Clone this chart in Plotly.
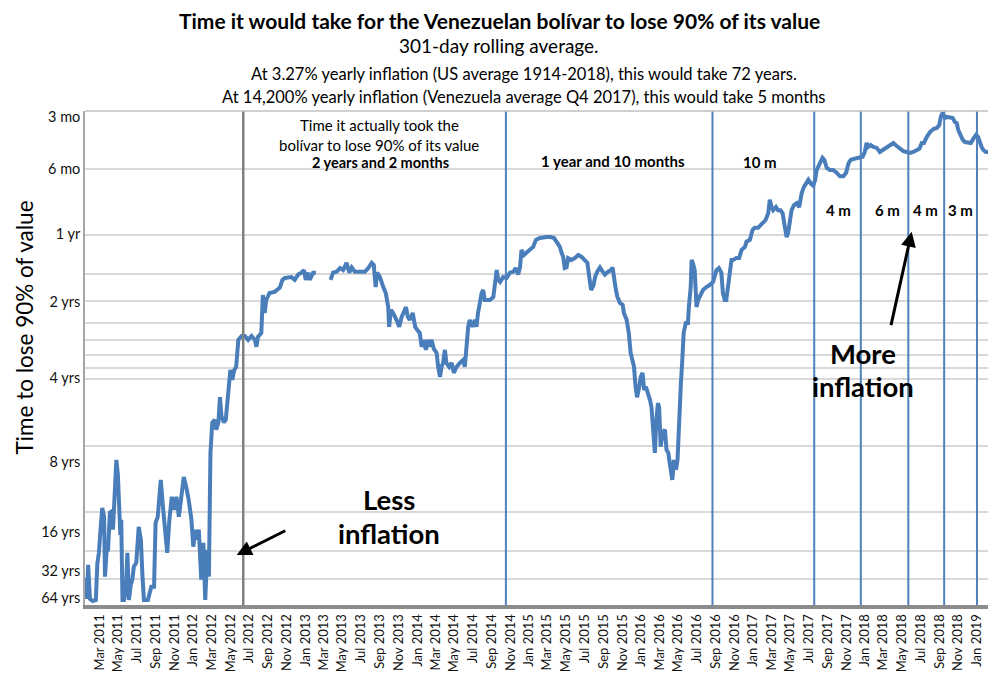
import numpy as np
import plotly.graph_objects as go

# 301-day rolling value on the chart's log scale (axis quantity, larger = slower loss)
dates = [
    "2011-01-14", "2011-01-19", "2011-01-23", "2011-01-29", "2011-02-07", "2011-02-17",
    "2011-02-22", "2011-02-27", "2011-03-06", "2011-03-10", "2011-03-16", "2011-03-19",
    "2011-03-24", "2011-03-29", "2011-04-04", "2011-04-09", "2011-04-14", "2011-04-20",
    "2011-04-25", "2011-04-30", "2011-05-03", "2011-05-08", "2011-05-11", "2011-05-15",
    "2011-05-20", "2011-05-26", "2011-05-31", "2011-06-05", "2011-06-11", "2011-06-16",
    "2011-06-21", "2011-06-29", "2011-07-07", "2011-07-14", "2011-07-19", "2011-07-24",
    "2011-08-06", "2011-08-17", "2011-08-26", "2011-08-31", "2011-09-07", "2011-09-17",
    "2011-09-24", "2011-10-02", "2011-10-08", "2011-10-15", "2011-10-23", "2011-10-30",
    "2011-11-07", "2011-11-15", "2011-11-23", "2011-12-01", "2011-12-09", "2011-12-17",
    "2011-12-26", "2012-01-01", "2012-01-08", "2012-01-13", "2012-01-19", "2012-01-27",
    "2012-02-03", "2012-02-09", "2012-02-16", "2012-02-21", "2012-02-26", "2012-03-03",
    "2012-03-11", "2012-03-16", "2012-03-23", "2012-03-28", "2012-04-02", "2012-04-10",
    "2012-04-16", "2012-04-21", "2012-04-26", "2012-05-01", "2012-05-07", "2012-05-14",
    "2012-05-20", "2012-05-27", "2012-06-01", "2012-06-07", "2012-06-17", "2012-06-28",
    "2012-07-09", "2012-07-20", "2012-07-25", "2012-07-30", "2012-08-10", "2012-08-15",
    "2012-08-21", "2012-08-26", "2012-09-06", "2012-09-22", "2012-10-09", "2012-10-18",
    "2012-10-26", "2012-11-05", "2012-11-16", "2012-11-27", "2012-12-08", "2012-12-19",
    "2012-12-27", "2013-01-02", "2013-01-10", "2013-01-15", "2013-01-26", "2013-02-04",
    "2013-03-01", "2013-03-24", "2013-04-01", "2013-04-13", "2013-04-24", "2013-05-04",
    "2013-05-15", "2013-05-24", "2013-06-01", "2013-06-11", "2013-06-22", "2013-07-03",
    "2013-07-14", "2013-07-25", "2013-08-05", "2013-08-12", "2013-08-18", "2013-08-23",
    "2013-09-01", "2013-09-12", "2013-09-20", "2013-09-28", "2013-10-01", "2013-10-07",
    "2013-10-14", "2013-10-25", "2013-11-03", "2013-11-11", "2013-11-16", "2013-11-25",
    "2013-12-01", "2013-12-08", "2013-12-17", "2013-12-25", "2014-01-01", "2014-01-09",
    "2014-01-15", "2014-01-22", "2014-01-29", "2014-02-05", "2014-02-11", "2014-02-16",
    "2014-02-24", "2014-03-05", "2014-03-10", "2014-03-16", "2014-03-21", "2014-03-26",
    "2014-04-01", "2014-04-06", "2014-04-15", "2014-04-23", "2014-04-30", "2014-05-09",
    "2014-05-20", "2014-05-31", "2014-06-05", "2014-06-11", "2014-06-16", "2014-06-21",
    "2014-06-30", "2014-07-08", "2014-07-13", "2014-07-18", "2014-07-24", "2014-07-30",
    "2014-08-04", "2014-08-09", "2014-08-15", "2014-08-26", "2014-09-06", "2014-09-11",
    "2014-09-17", "2014-09-22", "2014-09-28", "2014-10-08", "2014-10-19", "2014-10-30",
    "2014-11-10", "2014-11-19", "2014-11-26", "2014-12-02", "2014-12-07", "2014-12-15",
    "2014-12-24", "2015-01-03", "2015-01-14", "2015-01-23", "2015-02-05", "2015-02-16",
    "2015-02-27", "2015-03-12", "2015-03-23", "2015-03-31", "2015-04-11", "2015-04-17",
    "2015-04-22", "2015-04-27", "2015-05-03", "2015-05-08", "2015-05-19", "2015-05-30",
    "2015-06-10", "2015-06-21", "2015-07-02", "2015-07-10", "2015-07-16", "2015-07-22",
    "2015-07-30", "2015-08-04", "2015-08-11", "2015-08-20", "2015-08-29", "2015-09-05",
    "2015-09-16", "2015-09-25", "2015-09-30", "2015-10-04", "2015-10-11", "2015-10-16",
    "2015-10-24", "2015-11-02", "2015-11-06", "2015-11-15", "2015-11-22", "2015-11-28",
    "2015-12-04", "2015-12-09", "2015-12-14", "2015-12-19", "2015-12-26", "2015-12-31",
    "2016-01-06", "2016-01-11", "2016-01-17", "2016-01-24", "2016-01-30", "2016-02-04",
    "2016-02-09", "2016-02-15", "2016-02-20", "2016-02-25", "2016-02-29", "2016-03-05",
    "2016-03-11", "2016-03-19", "2016-03-24", "2016-03-30", "2016-04-02", "2016-04-06",
    "2016-04-12", "2016-04-17", "2016-04-24", "2016-04-29", "2016-05-03", "2016-05-06",
    "2016-05-10", "2016-05-14", "2016-05-19", "2016-05-26", "2016-06-02", "2016-06-05",
    "2016-06-11", "2016-06-14", "2016-06-18", "2016-06-24", "2016-06-30", "2016-07-05",
    "2016-07-10", "2016-07-21", "2016-08-01", "2016-08-12", "2016-08-23", "2016-09-03",
    "2016-09-11", "2016-09-19", "2016-09-24", "2016-09-30", "2016-10-05", "2016-10-11",
    "2016-10-16", "2016-10-22", "2016-10-27", "2016-11-07", "2016-11-16", "2016-11-24",
    "2016-12-05", "2016-12-10", "2016-12-21", "2016-12-30", "2017-01-06", "2017-01-17",
    "2017-01-25", "2017-02-03", "2017-02-10", "2017-02-19", "2017-02-24", "2017-03-02",
    "2017-03-07", "2017-03-16", "2017-03-23", "2017-03-31", "2017-04-07", "2017-04-14",
    "2017-04-20", "2017-04-25", "2017-05-01", "2017-05-06", "2017-05-14", "2017-05-23",
    "2017-05-31", "2017-06-08", "2017-06-15", "2017-06-22", "2017-06-30", "2017-07-09",
    "2017-07-16", "2017-07-22", "2017-07-27", "2017-08-01", "2017-08-09", "2017-08-15",
    "2017-08-21", "2017-08-29", "2017-09-08", "2017-09-19", "2017-09-30", "2017-10-11",
    "2017-10-22", "2017-10-31", "2017-11-08", "2017-11-15", "2017-11-24", "2017-12-05",
    "2017-12-16", "2017-12-24", "2017-12-31", "2018-01-06", "2018-01-11", "2018-01-19",
    "2018-01-28", "2018-02-08", "2018-02-18", "2018-03-01", "2018-03-12", "2018-03-23",
    "2018-04-03", "2018-04-14", "2018-04-25", "2018-05-06", "2018-05-17", "2018-05-28",
    "2018-06-07", "2018-06-18", "2018-06-27", "2018-07-05", "2018-07-12", "2018-07-21",
    "2018-08-01", "2018-08-12", "2018-08-23", "2018-08-31", "2018-09-05", "2018-09-11",
    "2018-09-19", "2018-09-26", "2018-10-05", "2018-10-14", "2018-10-21", "2018-10-27",
    "2018-11-01", "2018-11-07", "2018-11-16", "2018-11-23", "2018-12-04", "2018-12-12",
    "2018-12-20", "2018-12-29", "2019-01-05", "2019-01-11", "2019-01-16", "2019-01-22",
    "2019-01-30", "2019-02-07",
]
values = [
    72, 90, 63, 90, 92, 91,
    62, 55.5, 40.6, 34.7, 38.1, 71.3,
    54.9, 53.8, 36.5, 36.1, 43.6, 27.9,
    21.0, 24.6, 32.9, 46.0, 39.3, 91,
    91, 81.7, 55.5, 91, 77.6, 73.6,
    64.2, 61.6, 42.3, 48.4, 69.9, 91,
    91, 79.2, 79.2, 40.6, 38.1, 25.9,
    34.3, 43.6, 55.5, 39.3, 30.9, 35.4,
    30.9, 38.1, 29.6, 25.1, 27.9, 31.9,
    39.3, 52.1, 43.6, 48.4, 43.6, 73.6,
    50.0, 91, 53.8, 71.3, 19.5, 14.2,
    13.8, 15.3, 14.2, 10.9, 13.3, 14.2,
    13.8, 11.6, 9.78, 8.19, 9.09, 8.19,
    7.93, 5.98, 5.86, 5.74, 5.74, 5.98,
    5.74, 5.98, 6.43, 5.80, 5.56, 3.74,
    4.51, 3.94, 3.66, 3.62, 3.47, 3.19,
    3.13, 3.10, 3.10, 3.19, 3.02, 2.96,
    2.88, 3.19, 2.96, 3.19, 2.96, 2.96,
    None, 3.19, 2.96, 2.93, 2.82, 2.88,
    2.67, 2.96, 2.80, 2.93, 2.93, 2.96,
    2.93, 2.82, 2.67, 2.73, 3.44, 2.96,
    3.10, 3.44, 3.66, 4.24, 5.22, 4.37,
    4.51, 4.85, 5.22, 4.70, 4.51, 4.24,
    4.70, 4.85, 4.51, 5.22, 5.39, 5.56,
    6.43, 5.98, 6.64, 5.98, 6.43, 5.98,
    6.57, 6.85, 7.93, 8.81, 7.93, 7.61,
    6.64, 7.61, 7.93, 7.61, 8.45, 7.93,
    7.61, 7.37, 7.93, 5.98, 5.22, 4.85,
    5.22, 4.85, 5.22, 4.51, 4.06, 3.66,
    3.55, 3.94, 3.94, 3.94, 3.82, 3.44,
    2.88, 3.19, 3.26, 3.10, 3.13, 2.96,
    2.93, 2.82, 3.02, 2.80, 2.33, 2.46,
    2.38, 2.33, 2.26, 2.10, 2.06, 2.04,
    2.04, 2.04, 2.06, 2.14, 2.26, 2.41,
    2.51, 2.82, 2.80, 2.54, 2.59, 2.54,
    2.46, 2.51, 2.59, 2.67, 3.10, 3.55,
    3.37, 3.10, 2.93, 2.80, 2.93, 3.02,
    2.93, 2.88, 2.80, 3.10, 3.55, 3.82,
    4.06, 4.15, 4.51, 4.85, 5.56, 6.85,
    7.37, 7.93, 9.78, 10.9, 9.78, 8.81,
    8.45, 10.1, 9.78, 10.4, 11.2, 12.1,
    15.8, 19.5, 13.8, 11.6, 12.1, 18.3,
    15.8, 15.3, 18.9, 19.5, 21.0, 22.6,
    25.9, 21.0, 23.3, 21.0, 14.8, 12.1,
    9.38, 7.61, 5.56, 5.01, 5.01, 4.24,
    3.44, 2.59, 2.67, 2.88, 4.24, 3.94,
    3.82, 3.55, 3.44, 3.37, 3.26, 2.88,
    2.82, 2.96, 3.66, 3.94, 3.94, 3.44,
    2.96, 2.59, 2.59, 2.54, 2.54, 2.33,
    2.26, 2.14, 2.10, 1.89, 1.85, 1.85,
    1.80, 1.76, 1.71, 1.59, 1.38, 1.49,
    1.54, 1.49, 1.54, 1.54, 1.59, 1.83,
    2.04, 1.95, 1.76, 1.54, 1.46, 1.43,
    1.49, 1.29, 1.21, 1.17, 1.12, 1.17,
    1.19, 1.12, 1.01, 0.979, 0.93, 0.89,
    0.91, 0.99, 1.01, 1.01, 1.04, 1.08,
    1.08, 1.04, 0.94, 0.91, 0.90, 0.89,
    0.88, 0.88, 0.837, 0.762, 0.794, 0.778,
    0.794, 0.802, 0.837, 0.820, 0.794, 0.778,
    0.762, 0.786, 0.81, 0.829, 0.837, 0.846,
    0.837, 0.820, 0.81, 0.762, 0.762, 0.716,
    0.679, 0.658, 0.651, 0.631, 0.580, 0.556,
    0.586, 0.580, 0.586, 0.586, 0.612, 0.618,
    0.665, 0.70, 0.738, 0.754, 0.762, 0.762,
    0.730, 0.70, 0.716, 0.762, 0.794, 0.820,
    0.837, 0.837,
]

tick_vals = [0.58, 1, 1.97, 4.0, 8.9, 21.4, 44.7, 67, 89]
tick_text = ["3 mo", "6 mo", "1 yr", "2 yrs", "4 yrs", "8 yrs", "16 yrs", "32 yrs", "64 yrs"]
grid_vals = [1, 2, 3, 4, 5, 6, 7, 8, 9, 18.2, 36.4, 54.6, 72.8]

start_line = "2012-06-12"
period_lines = ["2014-10-17", "2016-08-21", "2017-07-19", "2017-12-18",
                "2018-05-22", "2018-09-16", "2019-01-01"]

BLUE = "#4a7ebb"
FONT = "Lato"

fig = go.Figure()
fig.add_trace(go.Scatter(
    x=dates, y=values, mode="lines", connectgaps=False,
    line=dict(color=BLUE, width=4), showlegend=False,
))

shapes = [dict(type="line", xref="x", yref="paper", x0=start_line, x1=start_line,
               y0=0, y1=1, line=dict(color="#808080", width=2.5))]
for d in period_lines:
    shapes.append(dict(type="line", xref="x", yref="paper", x0=d, x1=d, y0=0, y1=1,
                       line=dict(color="#4f81bd", width=2)))
shapes.append(dict(type="line", xref="paper", yref="paper", x0=0, x1=1, y0=1, y1=1,
                   line=dict(color="#bfbfbf", width=1.5)))


def note(text, x, y, size=13, bold=False):
    return dict(text=f"<b>{text}</b>" if bold else text, x=x, y=y, xref="paper", yref="paper",
                showarrow=False, font=dict(family=FONT, size=size, color="#000"),
                xanchor="center", yanchor="middle")


annotations = [
    note("Time it would take for the Venezuelan bolívar to lose 90% of its value", 0.4585, 1.184, 21, True),
    note("301-day rolling average.", 0.4585, 1.132, 19),
    note("At 3.27% yearly inflation (US average 1914-2018), this would take 72 years.", 0.486, 1.075, 16.5),
    note("At 14,200% yearly inflation (Venezuela average Q4 2017), this would take 5 months", 0.486, 1.028, 16.5),
    note("Time it actually took the", 0.3256, 0.972, 15),
    note("bolívar to lose 90% of its value", 0.3256, 0.931, 15),
    note("2 years and 2 months", 0.3267, 0.8955, 14.5, True),
    note("1 year and 10 months", 0.5844, 0.8988, 15, True),
    note("10 m", 0.7475, 0.8968, 15, True),
    note("4 m", 0.8339, 0.7996, 15, True),
    note("6 m", 0.8882, 0.7996, 15, True),
    note("4 m", 0.9311, 0.7996, 15, True),
    note("3 m", 0.9699, 0.7996, 15, True),
    note("More", 0.8619, 0.5101, 27.5, True),
    note("inflation", 0.8619, 0.4413, 27.5, True),
    note("Less", 0.3367, 0.2126, 27.5, True),
    note("inflation", 0.3367, 0.1457, 27.5, True),
    dict(text="Time to lose 90% of value", x=-0.068, y=0.5607, xref="paper", yref="paper",
         showarrow=False, textangle=-90, xanchor="center", yanchor="middle",
         font=dict(family=FONT, size=22.5, color="#000")),
    dict(text="", x=0.9155, y=0.7557, xref="paper", yref="paper", showarrow=True,
         ax=-21, ay=95, arrowhead=2, arrowsize=1, arrowwidth=3, arrowcolor="#000"),
    dict(text="", x=0.168, y=0.1012, xref="paper", yref="paper", showarrow=True,
         ax=50, ay=-25, arrowhead=2, arrowsize=1, arrowwidth=3, arrowcolor="#000"),
]

# the page body adds an 8 px offset, so the figure is 8 px smaller and the margins compensate
fig.update_layout(
    width=992, height=678,
    margin=dict(l=77, r=12, t=103, b=81),
    paper_bgcolor="white", plot_bgcolor="white",
    font=dict(family=FONT, color="#000"),
    shapes=shapes, annotations=annotations,
)
fig.update_xaxes(
    type="date", range=["2011-01-12 17:00", "2019-02-06"], automargin=False,
    tickmode="linear", tick0="2011-03-01", dtick="M2", tickformat="%b %Y",
    tickangle=-90, tickfont=dict(size=13, color="#111"),
    showgrid=False, zeroline=False, ticks="",
    showline=True, linecolor="#8c8c8c", linewidth=4,
)
fig.update_yaxes(
    type="log", range=[1.9818, -0.2636], automargin=False,
    tickmode="array", tickvals=tick_vals, ticktext=tick_text,
    tickfont=dict(size=14.5, color="#111"), ticks="",
    showgrid=False, zeroline=False,
    minor=dict(tickmode="array", tickvals=grid_vals, showgrid=True,
               gridcolor="#d9d9d9", gridwidth=1.5, ticks=""),
    showline=True, linecolor="#a6a6a6", linewidth=1.5,
)

fig.write_html("out.html")
